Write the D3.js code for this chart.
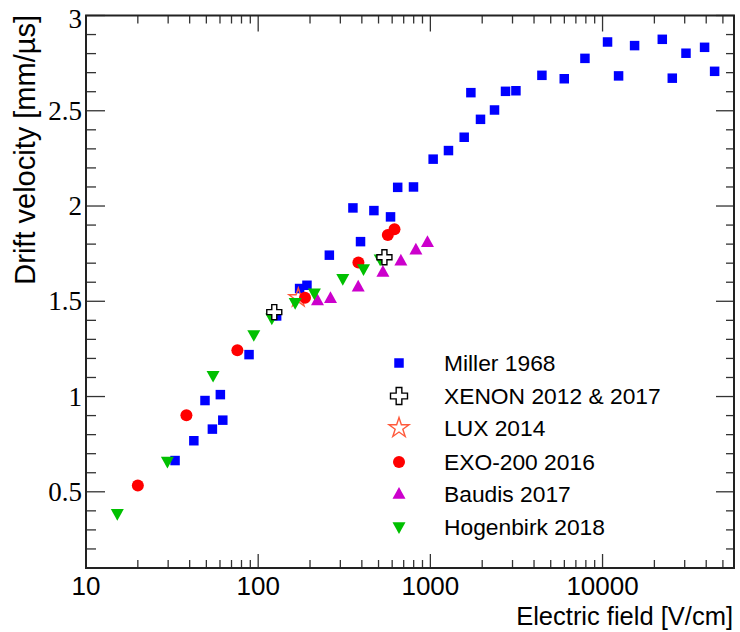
<!DOCTYPE html>
<html>
<head>
<meta charset="utf-8">
<script src="https://cdn.jsdelivr.net/npm/d3@7"></script>
<style>
  html, body { margin: 0; padding: 0; background: #fff; }
  svg { display: block; }
</style>
</head>
<body>
<svg id="chart" width="740" height="632"></svg>
<script>
// ---------------- data ----------------
const millerField = [32.9, 42.3, 49.1, 54.2, 60.3, 62.3, 88.5, 128, 174, 192, 259, 355, 393, 470, 587, 646, 798,
  1038, 1274, 1572, 1719, 1955, 2358, 2732, 3140, 4445, 5992, 7902, 10690, 12390, 15350, 22230, 25410, 30520, 39140, 44760];
const millerVel = [0.664, 0.768, 0.979, 0.829, 1.010, 0.876, 1.220, 1.423, 1.567, 1.584, 1.742, 1.990, 1.813, 1.976, 1.943, 2.098, 2.100,
  2.246, 2.291, 2.361, 2.595, 2.455, 2.504, 2.602, 2.605, 2.686, 2.668, 2.775, 2.861, 2.683, 2.842, 2.875, 2.671, 2.802, 2.833, 2.707];

const xenonField = [124, 541];
const xenonVel = [1.443, 1.731];

const luxField = [171];
const luxVel = [1.518];

const exoField = [20.0, 38.3, 75.7, 187, 382, 566, 619];
const exoVel = [0.533, 0.902, 1.243, 1.519, 1.703, 1.848, 1.878];

const baudisField = [221, 263, 381, 530, 674, 824, 962];
const baudisVel = [1.504, 1.516, 1.576, 1.653, 1.712, 1.770, 1.810];

const hogenField = [15.2, 29.7, 54.7, 94.3, 120, 164, 212, 310, 409, 511];
const hogenVel = [0.385, 0.659, 1.110, 1.324, 1.411, 1.493, 1.542, 1.618, 1.670, 1.721];

const xTickValues = [10, 100, 1000, 10000];
const yTickValues = [0.5, 1, 1.5, 2, 2.5, 3];
const legendLabels = ["Miller 1968", "XENON 2012 & 2017", "LUX 2014", "EXO-200 2016", "Baudis 2017", "Hogenbirk 2018"];

// ---------------- layout ----------------
const svg = d3.select("#chart");
const L = 86, R = 734, T = 15.5, B = 568;
const x = d3.scaleLog().domain([10, 58000]).range([L, R]);
const y = d3.scaleLinear().domain([0.1, 3]).range([B, T]);

// symbol generators
const squarePath = s => `M${-s/2},${-s/2}h${s}v${s}h${-s}Z`;
const triUp = w => { const h = w * 0.9; return `M0,${-h*0.6}L${w/2},${h*0.4}L${-w/2},${h*0.4}Z`; };
const triDown = w => { const h = w * 0.9; return `M0,${h*0.6}L${w/2},${-h*0.4}L${-w/2},${-h*0.4}Z`; };
const crossPath = s => { const a = s/2, b = s/6;
  return `M${-b},${-a}H${b}V${-b}H${a}V${b}H${b}V${a}H${-b}V${b}H${-a}V${-b}H${-b}Z`; };
const starPath = d3.symbol(d3.symbolStar, 110)();

const series = [
  { key: "miller", xs: millerField, ys: millerVel, d: squarePath(9.5), fill: "#0000ff", stroke: "none", sw: 0 },
  { key: "lux", xs: luxField, ys: luxVel, d: starPath, fill: "none", stroke: "#ff5a3c", sw: 1.4 },
  { key: "exo", xs: exoField, ys: exoVel, d: d3.symbol(d3.symbolCircle, Math.PI * 36)(), fill: "#ff0000", stroke: "none", sw: 0 },
  { key: "baudis", xs: baudisField, ys: baudisVel, d: triUp(13), fill: "#cc00cc", stroke: "none", sw: 0 },
  { key: "hogen", xs: hogenField, ys: hogenVel, d: triDown(13), fill: "#00c000", stroke: "none", sw: 0 },
  { key: "xenon", xs: xenonField, ys: xenonVel, d: crossPath(15), fill: "#ffffff", stroke: "#000000", sw: 1.4 }
];

// ---------------- ticks ----------------
const tickG = svg.append("g").attr("stroke", "#333").attr("stroke-width", 1.3);
const yMinor = d3.range(1, 31).map(v => v / 10).filter(v => v >= 0.1 && v <= 3);
yMinor.forEach(v => {
  const major = Math.abs(v * 2 - Math.round(v * 2)) < 1e-6;
  tickG.append("line").attr("x1", L).attr("x2", L + (major ? 19 : 10)).attr("y1", y(v)).attr("y2", y(v));
  tickG.append("line").attr("x1", R).attr("x2", R - (major ? 18 : 8)).attr("y1", y(v)).attr("y2", y(v));
});
const xAll = [];
[10, 100, 1000, 10000].forEach(d => { for (let k = 1; k <= 9; k++) { const v = d * k; if (v <= 58000) xAll.push(v); } });
xAll.forEach(v => {
  const major = xTickValues.includes(v);
  tickG.append("line").attr("x1", x(v)).attr("x2", x(v)).attr("y1", B).attr("y2", B - (major ? 14 : 8));
  tickG.append("line").attr("x1", x(v)).attr("x2", x(v)).attr("y1", T).attr("y2", T + (major ? 16 : 8));
});

// frame
svg.append("rect").attr("x", L).attr("y", T).attr("width", R - L).attr("height", B - T)
  .attr("fill", "none").attr("stroke", "#222").attr("stroke-width", 2);

// tick labels
svg.append("g").selectAll("text").data(xTickValues).join("text")
  .attr("x", d => x(d)).attr("y", 595)
  .attr("text-anchor", "middle")
  .attr("font-family", "Liberation Sans, Arial, sans-serif").attr("font-size", 26)
  .attr("fill", "#000").text(d => d);

svg.append("g").selectAll("text").data(yTickValues).join("text")
  .attr("x", 82).attr("y", d => y(d) + (d === 3 ? 12 : 9))
  .attr("text-anchor", "end")
  .attr("font-family", "Liberation Serif, Times New Roman, serif").attr("font-size", 27)
  .attr("fill", "#000").text(d => d);

// axis titles
svg.append("text").attr("x", 733).attr("y", 625).attr("text-anchor", "end")
  .attr("font-family", "Liberation Sans, Arial, sans-serif").attr("font-size", 25.5)
  .attr("fill", "#000").text("Electric field [V/cm]");
svg.append("text").attr("transform", "translate(35,15) rotate(-90)").attr("text-anchor", "end")
  .attr("font-family", "Liberation Sans, Arial, sans-serif").attr("font-size", 29)
  .attr("fill", "#000").text("Drift velocity [mm/\u00b5s]");

// ---------------- markers ----------------
const plotG = svg.append("g");
series.forEach(s => {
  const pts = s.xs.map((v, i) => [v, s.ys[i]]);
  plotG.append("g").selectAll("path").data(pts).join("path")
    .attr("transform", d => `translate(${x(d[0])},${y(d[1])})`)
    .attr("d", s.d).attr("fill", s.fill).attr("stroke", s.stroke).attr("stroke-width", s.sw);
});

// ---------------- legend ----------------
const legendOrder = ["miller", "xenon", "lux", "exo", "baudis", "hogen"];
const legY = [363, 396, 428, 462, 494, 527];
const legG = svg.append("g");
legendOrder.forEach((k, i) => {
  const s = series.find(z => z.key === k);
  legG.append("path").attr("transform", `translate(399,${legY[i]})`)
    .attr("d", k === "xenon" ? crossPath(17) : k === "lux" ? d3.symbol(d3.symbolStar, 125)() : s.d)
    .attr("fill", s.fill).attr("stroke", s.stroke).attr("stroke-width", s.sw);
  legG.append("text").attr("x", 444).attr("y", legY[i] + 8)
    .attr("font-family", "Liberation Sans, Arial, sans-serif").attr("font-size", 22.8)
    .attr("fill", "#000").text(legendLabels[i]);
});
</script>
</body>
</html>
